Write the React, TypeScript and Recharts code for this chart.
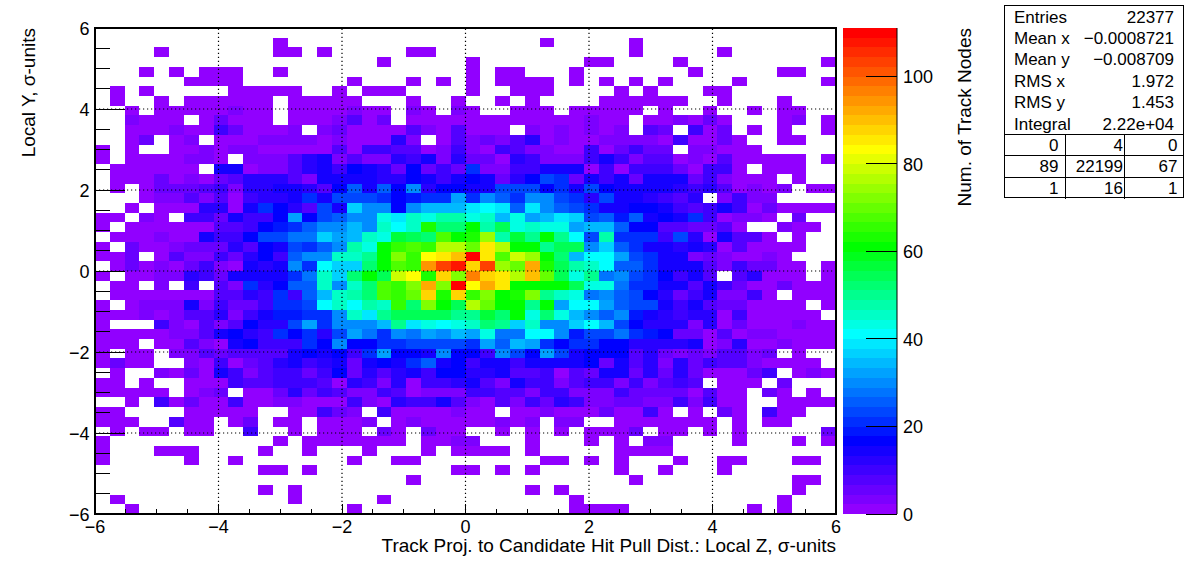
import React from 'react';
import {
    BarChart,
    Bar,
    ScatterChart,
    Scatter,
    XAxis,
    YAxis,
} from 'recharts';

// bin counts, one list per row, top row first
const row00 = [0,0,0,0,0,0,0,0,0,0, 0,0,0,0,0,0,0,0,0,0, 0,0,0,0,0,0,0,0,0,0, 0,0,0,0,0,0,0,0,0,0, 0,0,0,0,0,0,0,0,0,0];
const row01 = [0,0,0,0,0,0,0,0,0,0, 0,0,1,0,0,0,0,0,0,0, 0,0,0,0,0,0,0,0,0,0, 1,0,0,0,0,0,1,0,0,0, 0,0,0,0,0,0,0,0,0,0];
const row02 = [0,0,0,0,1,0,0,0,0,0, 0,0,1,1,0,1,0,0,0,0, 0,1,1,0,0,0,0,0,0,0, 0,0,0,0,0,0,1,0,0,0, 0,0,1,0,0,0,0,0,0,0];
const row03 = [0,0,0,0,0,0,0,0,0,0, 0,0,0,0,0,0,0,0,0,1, 0,0,0,0,0,1,0,0,0,0, 0,0,0,1,1,0,0,0,0,1, 0,0,0,0,0,0,0,0,0,1];
const row04 = [0,0,0,1,0,1,0,1,1,1, 0,0,1,0,0,0,0,0,0,0, 0,0,0,0,0,1,0,1,1,0, 0,0,1,0,0,0,0,0,0,0, 1,0,0,0,0,0,1,1,0,0];
const row05 = [0,0,0,0,0,0,1,1,1,1, 0,0,0,0,0,0,0,1,0,0, 0,1,0,1,0,1,0,1,1,1, 1,0,1,0,1,0,1,0,1,0, 0,0,0,1,0,0,0,0,0,1];
const row06 = [0,1,0,1,0,0,0,0,0,1, 1,1,1,1,0,0,1,0,1,1, 1,0,0,0,0,1,0,0,1,1, 1,0,0,0,0,1,0,1,0,0, 0,1,1,0,0,0,0,0,0,0];
const row07 = [0,1,0,0,1,0,1,1,1,1, 1,1,0,1,1,1,1,1,0,0, 0,1,0,0,1,0,0,1,0,1, 0,0,0,0,1,1,1,1,1,1, 0,0,1,0,0,0,1,0,0,0];
const row08 = [0,0,2,0,2,2,2,2,2,3, 2,2,0,1,1,1,2,3,2,2, 0,3,2,0,3,2,0,0,2,1, 1,0,1,1,2,2,2,0,1,0, 0,1,0,0,1,0,1,1,0,0];
const row09 = [0,0,4,2,2,2,0,2,5,2, 2,2,0,1,2,2,3,7,2,5, 0,2,2,2,2,2,2,2,2,2, 2,2,2,3,2,2,0,2,2,3, 2,5,2,0,0,0,1,3,0,1];
const row10 = [0,0,2,2,2,3,2,2,9,5, 2,2,2,3,0,3,5,2,2,2, 2,7,3,2,7,2,2,2,0,3, 2,3,2,3,2,3,0,7,5,0, 9,2,5,0,1,0,1,0,0,1];
const row11 = [0,0,2,5,0,2,3,0,2,2, 2,3,3,3,3,2,3,2,2,2, 12,3,0,2,7,3,5,3,7,12, 2,3,2,2,3,3,3,3,2,9, 2,2,5,2,0,0,1,1,0,0];
const row12 = [1,0,2,0,0,2,2,3,2,3, 3,2,2,2,2,2,7,2,11,11, 7,7,1,3,11,3,2,11,7,3, 3,2,2,11,2,5,9,5,5,0, 3,3,2,2,2,0,0,0,0,0];
const row13 = [1,0,2,2,2,2,3,3,2,0, 3,3,3,7,12,14,3,7,3,3, 12,9,14,3,12,5,5,2,12,9, 3,3,3,11,14,11,3,7,7,2, 3,2,7,2,2,2,1,1,0,1];
const row14 = [0,1,1,1,1,1,1,0,14,14, 2,3,3,7,12,14,9,17,15,12, 5,17,5,11,5,20,3,3,9,9, 14,15,14,2,9,2,11,11,11,5, 2,9,9,1,0,1,1,1,0,0];
const row15 = [0,1,1,1,5,2,4,1,5,7, 12,12,12,7,3,14,14,15,15,12, 12,17,14,11,14,17,15,5,12,17, 23,21,5,14,9,14,5,14,14,14, 5,9,3,2,2,2,0,1,0,0];
const row16 = [0,1,0,1,5,5,5,7,9,3, 12,12,15,15,12,7,17,26,15,26, 17,29,12,17,17,15,15,23,23,23, 17,21,14,23,17,15,14,14,15,12, 9,12,7,2,3,2,4,0,1,1];
const row17 = [0,0,0,2,3,3,7,3,7,2, 11,12,12,15,21,14,23,23,23,21, 17,19,21,21,32,21,30,26,21,30, 30,23,21,12,23,15,15,12,9,7, 12,0,3,9,3,3,0,0,0,0];
const row18 = [0,0,1,0,1,2,2,12,12,1, 15,20,17,12,7,23,15,37,31,31, 17,29,34,34,34,38,41,38,26,38, 31,26,23,21,14,14,17,17,15,11, 7,11,14,9,2,5,1,1,1,1];
const row19 = [1,1,0,3,1,0,11,11,5,15, 11,9,17,32,17,23,26,31,31,43, 38,45,43,48,48,44,46,34,43,32, 34,38,37,23,26,19,26,15,17,15, 21,11,2,4,4,2,0,5,0,0];
const row20 = [1,0,1,1,1,1,1,1,7,7, 11,17,19,21,26,29,31,35,31,46, 41,45,64,52,52,60,48,54,44,46, 43,43,32,35,35,26,17,17,7,7, 5,5,7,2,0,0,3,1,1,0];
const row21 = [0,1,1,1,3,2,2,14,11,9, 17,23,23,27,27,37,32,35,46,44, 57,55,52,67,60,63,75,48,57,50, 60,50,41,23,48,21,21,21,11,23, 12,2,14,7,7,1,0,1,0,0];
const row22 = [1,0,5,2,2,4,6,6,6,12, 7,17,14,23,20,26,31,48,43,60, 65,67,65,76,76,71,86,76,60,62, 50,54,54,31,37,26,21,15,15,12, 14,12,2,7,1,1,1,1,0,0];
const row23 = [1,1,5,0,1,7,3,3,9,5, 12,17,9,26,29,31,45,46,51,62, 73,65,83,86,89,110,86,67,79,75, 60,52,34,41,41,32,23,21,15,14, 3,6,3,2,2,4,1,0,0,0];
const row24 = [0,1,5,2,4,2,5,9,3,1, 15,12,15,31,21,40,36,37,52,60, 68,65,95,103,108,88,103,75,71,92, 63,54,48,46,41,26,26,20,15,15, 14,7,3,9,5,5,1,1,0,1];
const row25 = [1,0,2,2,3,3,12,11,5,14, 14,14,15,21,27,46,37,53,60,55, 78,83,64,87,73,97,88,86,76,89, 70,54,44,51,27,31,24,21,17,11, 15,7,0,7,12,1,1,1,0,1];
const row26 = [0,1,1,0,3,0,9,0,7,3, 22,12,17,26,26,45,31,45,53,68, 65,73,92,73,110,83,92,86,60,62, 60,60,55,43,44,27,21,21,15,14, 7,14,9,5,2,2,5,1,1,1];
const row27 = [0,1,1,1,1,1,1,1,7,7, 12,11,21,11,26,34,45,48,52,68, 65,70,87,63,87,65,73,60,64,73, 50,46,44,27,31,26,24,17,12,5, 9,14,4,4,9,2,0,1,1,1];
const row28 = [1,0,2,3,3,3,14,3,11,6, 6,11,21,21,24,41,45,41,48,45, 65,52,73,60,54,76,70,60,60,50, 60,32,40,41,32,26,24,24,15,9, 14,7,5,5,2,1,1,1,0,1];
const row29 = [1,1,1,3,2,3,7,7,12,3, 11,14,19,19,21,21,31,46,38,51, 54,54,54,55,51,50,57,52,62,43, 53,44,35,31,26,31,19,15,12,10, 12,12,2,9,1,1,1,1,1,0];
const row30 = [1,0,0,0,9,3,1,7,3,7, 17,12,12,23,32,20,29,31,31,35, 50,38,43,41,43,46,52,51,37,46, 29,29,37,40,34,23,17,12,12,12, 3,12,1,5,1,1,1,4,1,1];
const row31 = [1,1,1,1,1,3,3,7,15,17, 12,10,20,17,21,12,23,32,27,21, 31,27,32,29,35,32,43,27,27,41, 40,31,19,23,23,27,21,19,17,5, 5,2,7,1,3,3,1,1,1,1];
const row32 = [1,1,1,0,1,1,7,3,2,15, 17,11,11,11,20,17,29,17,17,21, 21,23,23,23,23,21,32,26,35,32, 21,17,21,20,17,17,12,12,12,12, 15,2,4,12,2,2,4,1,1,1];
const row33 = [1,0,1,1,0,3,3,7,5,7, 8,8,7,14,17,14,17,9,21,32, 17,17,15,29,16,17,11,31,23,17, 32,23,14,17,17,17,7,12,5,3, 5,3,7,7,3,5,0,1,0,0];
const row34 = [1,5,1,1,0,0,3,2,11,1, 5,7,12,15,11,12,15,5,15,17, 15,21,26,15,17,9,14,14,11,14, 14,14,14,17,5,15,7,12,3,12, 5,11,7,7,3,1,1,1,1,0];
const row35 = [0,1,0,0,3,2,5,2,14,11, 4,7,9,9,6,11,17,5,12,7, 12,15,9,17,17,12,12,15,7,7, 11,2,7,5,14,14,5,12,5,12, 5,1,2,2,5,9,0,1,3,2];
const row36 = [1,1,0,1,0,0,1,1,1,11, 7,7,9,9,11,7,2,12,11,3, 12,2,11,11,12,14,7,3,14,11, 11,3,7,11,9,3,9,3,7,11, 7,0,1,1,1,0,5,0,0,0];
const row37 = [1,1,1,1,1,0,1,4,6,0, 1,1,5,12,5,9,8,3,3,11, 7,2,4,4,4,10,10,7,8,4, 11,11,4,4,4,9,5,5,5,5, 2,7,1,1,0,5,2,0,1,0];
const row38 = [0,0,1,0,9,2,5,2,2,9, 2,2,4,4,2,2,2,9,4,2, 12,9,9,14,7,4,2,8,4,9, 5,12,9,3,3,5,5,3,3,9, 3,11,1,1,0,0,1,1,1,1];
const row39 = [1,1,0,0,0,0,1,1,1,1, 1,0,0,1,1,9,5,4,0,9, 1,1,1,1,4,1,1,0,1,1, 4,1,1,2,6,1,1,9,1,0, 1,0,5,1,0,9,1,1,0,0];
const row40 = [1,1,1,0,0,7,1,1,0,1, 5,0,1,1,0,1,1,1,3,0, 1,3,1,1,1,1,1,4,1,4, 0,4,4,0,0,1,1,1,1,1, 1,1,0,1,0,1,1,0,0,0];
const row41 = [0,1,0,1,1,0,1,1,0,0, 9,0,0,1,0,1,1,1,0,5, 1,0,5,1,1,0,0,1,0,1, 0,1,0,1,1,1,5,0,1,1, 0,1,0,1,0,0,0,0,0,5];
const row42 = [1,0,0,0,0,0,0,0,0,0, 0,0,1,0,1,1,1,1,1,1, 1,0,1,1,4,4,0,0,0,1, 0,0,0,1,0,1,0,3,3,0, 0,0,0,1,0,0,0,1,0,1];
const row43 = [1,0,0,0,1,1,1,0,0,0, 0,1,0,0,1,0,0,0,1,0, 0,0,1,0,1,1,1,1,0,1, 0,0,0,0,0,1,1,1,1,0, 0,0,0,0,0,0,0,0,0,0];
const row44 = [1,0,0,0,0,0,1,0,0,1, 0,0,0,0,0,0,0,1,0,0, 1,1,0,0,0,0,0,0,0,0, 1,1,0,1,0,1,0,0,0,1, 0,0,1,1,0,0,0,1,1,0];
const row45 = [0,0,0,0,0,0,0,0,0,0, 0,1,1,0,1,0,0,0,0,0, 0,0,0,0,1,1,0,1,0,1, 0,0,0,0,0,1,0,0,1,0, 0,0,1,0,0,0,0,0,0,0];
const row46 = [0,0,0,0,0,0,0,0,0,0, 0,0,0,0,0,0,0,0,0,0, 0,1,0,0,0,0,0,0,0,0, 0,0,0,0,0,0,1,0,0,0, 0,0,0,0,0,0,0,1,1,0];
const row47 = [0,0,0,0,0,0,0,0,0,0, 0,1,0,1,0,0,0,0,0,0, 0,0,0,0,0,0,0,0,0,1, 0,1,0,0,0,0,0,0,0,0, 0,0,0,0,0,0,0,1,0,0];
const row48 = [0,1,0,0,0,0,0,0,0,0, 0,0,0,1,0,0,0,0,0,1, 0,0,0,0,0,0,0,0,0,0, 0,0,1,0,0,0,0,0,0,0, 0,0,0,0,0,0,1,0,0,0];
const row49 = [0,0,1,0,0,0,0,0,0,0, 0,0,0,0,0,0,0,1,0,0, 0,0,0,0,0,0,0,0,0,0, 0,0,1,1,1,1,0,0,0,0, 0,0,0,0,1,0,1,0,0,0];

const countRows = [
    row00, row01, row02, row03, row04, row05, row06, row07, row08, row09,
    row10, row11, row12, row13, row14, row15, row16, row17, row18, row19,
    row20, row21, row22, row23, row24, row25, row26, row27, row28, row29,
    row30, row31, row32, row33, row34, row35, row36, row37, row38, row39,
    row40, row41, row42, row43, row44, row45, row46, row47, row48, row49,
];

const axisTicks = [-6, -5.5, -5, -4.5, -4, -3.5, -3, -2.5, -2, -1.5, -1, -0.5, 0, 0.5, 1, 1.5, 2, 2.5, 3, 3.5, 4, 4.5, 5, 5.5, 6];
const gridLines = [-4, -2, 0, 2, 4];
const colorTicks = [0, 20, 40, 60, 80, 100];

const statsLines = [
    ['Entries', '22377'],
    ['Mean x', '\u22120.0008721'],
    ['Mean y', '\u22120.008709'],
    ['RMS x', '1.972'],
    ['RMS y', '1.453'],
    ['Integral', '2.22e+04'],
];
const overflowCells = [
    ['0', '4', '0'],
    ['89', '22199', '67'],
    ['1', '16', '1'],
];

const FONT = '"Liberation Sans", Arial, sans-serif';
const RANGE = 6;
const BINS = 50;
const BIN_SIZE = (2 * RANGE) / BINS;
const MAX_COUNT = 111;
const LEVEL_COUNT = 50;
const LEVEL_STEP = MAX_COUNT / LEVEL_COUNT;

const PLOT = { left: 95, right: 836, top: 28, bottom: 514 };
const CELL_W = (PLOT.right - PLOT.left) / BINS;
const CELL_H = (PLOT.bottom - PLOT.top) / BINS;

// rainbow palette stops: [level, r, g, b]
const PALETTE_STOPS = [
    [0, 145, 0, 255],
    [7, 0, 0, 255],
    [18, 0, 255, 255],
    [27, 0, 255, 0],
    [37, 255, 255, 0],
    [49, 255, 0, 0],
];

const paletteColor = (level: number) => {
    let i = 0;
    while (i < PALETTE_STOPS.length - 2 && level > PALETTE_STOPS[i + 1][0]) i += 1;
    const a = PALETTE_STOPS[i];
    const b = PALETTE_STOPS[i + 1];
    const t = (level - a[0]) / (b[0] - a[0]);
    const mix = (k: number) => Math.round(a[k] + (b[k] - a[k]) * t);
    return `rgb(${mix(1)},${mix(2)},${mix(3)})`;
};

const levels = Array.from({ length: LEVEL_COUNT }, (_, i) => i);

const cells = countRows.flatMap((row, r) =>
    row.map((count, c) => ({
        x: -RANGE + (c + 0.5) * BIN_SIZE,
        y: RANGE - (r + 0.5) * BIN_SIZE,
        count,
    })),
).filter((cell) => cell.count > 0);

const innerTicks = axisTicks.slice(1, -1);
const xTickPoints = innerTicks.map((value) => ({ x: value, y: -RANGE, major: value % 2 === 0 }));
const yTickPoints = innerTicks.map((value) => ({ x: -RANGE, y: value, major: value % 2 === 0 }));
const xGridPoints = gridLines.map((value) => ({ x: value, y: -RANGE }));
const yGridPoints = gridLines.map((value) => ({ x: -RANGE, y: value }));
const framePoint = [{ x: -RANGE, y: RANGE }];
const colorTickPoints = colorTicks.map((value) => ({ x: 1, y: value }));

const colorBarRow = levels.reduce(
    (acc: Record<string, number | string>, level) => {
        acc[`level${level}`] = LEVEL_STEP;
        return acc;
    },
    { name: 'z' },
);

const minusLabel = (value: number) =>
    value < 0 ? `\u2212${Math.abs(value)}` : `${value}`;

const HistCell = (props: any) => {
    const { cx, cy, payload } = props;
    const level = Math.min(LEVEL_COUNT - 1, Math.floor(payload.count / LEVEL_STEP));
    return (
        <rect
            x={cx - CELL_W / 2}
            y={cy - CELL_H / 2}
            width={CELL_W}
            height={CELL_H}
            fill={paletteColor(level)}
            shapeRendering="crispEdges"
        />
    );
};

// grid, tick marks and frame all lie over the cells, so they are scatter series drawn after them
const XGridLine = ({ cx, cy }: any) => (
    <line x1={cx} x2={cx} y1={cy} y2={PLOT.top} stroke="#000" strokeWidth={1.2} strokeDasharray="1.2 2.8" />
);

const YGridLine = ({ cx, cy }: any) => (
    <line x1={cx} x2={PLOT.right} y1={cy} y2={cy} stroke="#000" strokeWidth={1.2} strokeDasharray="1.2 2.8" />
);

const XTickMark = ({ cx, cy, payload }: any) => (
    <line
        x1={cx}
        x2={cx}
        y1={cy}
        y2={cy - (payload.major ? 10 : 5)}
        stroke="#000"
        shapeRendering="crispEdges"
    />
);

const YTickMark = ({ cx, cy, payload }: any) => (
    <line
        x1={cx}
        x2={cx + (payload.major ? 30 : 15)}
        y1={cy}
        y2={cy}
        stroke="#000"
        shapeRendering="crispEdges"
    />
);

const FrameBox = ({ cx, cy }: any) => (
    <rect
        x={cx}
        y={cy}
        width={PLOT.right - PLOT.left}
        height={PLOT.bottom - PLOT.top}
        fill="none"
        stroke="#000"
        strokeWidth={2}
    />
);

const ColorTickMark = ({ cx, cy }: any) => (
    <line x1={cx - 31} x2={cx} y1={cy} y2={cy} stroke="#000" shapeRendering="crispEdges" />
);

const XTick = ({ x, payload }: any) =>
    payload.value % 2 === 0 ? (
        <text x={x} y={533} textAnchor="middle" fontSize={18} fontFamily={FONT} fill="#000">
            {minusLabel(payload.value)}
        </text>
    ) : (
        <g />
    );

const YTick = ({ y, payload }: any) =>
    payload.value % 2 === 0 ? (
        <text x={89.5} y={y + 7} textAnchor="end" fontSize={18} fontFamily={FONT} fill="#000">
            {minusLabel(payload.value)}
        </text>
    ) : (
        <g />
    );

const ColorTick = ({ x, y, payload }: any) => (
    <text x={x - 2} y={y + 7} fontSize={18} fontFamily={FONT} fill="#000">
        {payload.value}
    </text>
);

const App = () => {
    return (
        <div
            style={{
                position: 'absolute',
                left: 0,
                top: 0,
                width: 1196,
                height: 572,
                background: '#fff',
                fontFamily: FONT,
                overflow: 'hidden',
            }}
        >
            <div style={{ position: 'absolute', left: 0, top: 0 }}>
                <ScatterChart
                    width={1196}
                    height={572}
                    margin={{ top: PLOT.top, right: 1196 - PLOT.right, bottom: 28, left: 55 }}
                >
                    <XAxis
                        type="number"
                        dataKey="x"
                        domain={[-RANGE, RANGE]}
                        ticks={axisTicks}
                        interval={0}
                        height={30}
                        axisLine={false}
                        tickLine={false}
                        tick={<XTick />}
                    />
                    <YAxis
                        type="number"
                        dataKey="y"
                        domain={[-RANGE, RANGE]}
                        ticks={axisTicks}
                        interval={0}
                        width={40}
                        axisLine={false}
                        tickLine={false}
                        tick={<YTick />}
                    />
                    <Scatter data={cells} shape={<HistCell />} isAnimationActive={false} />
                    <Scatter data={xGridPoints} shape={<XGridLine />} isAnimationActive={false} />
                    <Scatter data={yGridPoints} shape={<YGridLine />} isAnimationActive={false} />
                    <Scatter data={xTickPoints} shape={<XTickMark />} isAnimationActive={false} />
                    <Scatter data={yTickPoints} shape={<YTickMark />} isAnimationActive={false} />
                    <Scatter data={framePoint} shape={<FrameBox />} isAnimationActive={false} />
                    <text x={836} y={552} textAnchor="end" fontSize={19} fontFamily={FONT} fill="#000">
                        Track Proj. to Candidate Hit Pull Dist.: Local Z, σ-units
                    </text>
                    <text
                        transform="translate(35 28) rotate(-90)"
                        textAnchor="end"
                        fontSize={19}
                        fontFamily={FONT}
                        fill="#000"
                    >
                        Local Y, σ-units
                    </text>
                </ScatterChart>
            </div>

            <div style={{ position: 'absolute', left: 843, top: 0 }}>
                <BarChart
                    width={160}
                    height={572}
                    data={[colorBarRow]}
                    barCategoryGap={0}
                    margin={{ top: PLOT.top, right: 61, bottom: 572 - PLOT.bottom, left: 0 }}
                >
                    <XAxis dataKey="name" hide />
                    <YAxis
                        orientation="right"
                        type="number"
                        domain={[0, MAX_COUNT]}
                        ticks={colorTicks}
                        interval={0}
                        width={45}
                        axisLine={false}
                        tick={false}
                        tickLine={false}
                    />
                    {levels.map((level) => (
                        <Bar
                            key={level}
                            dataKey={`level${level}`}
                            stackId="bar"
                            fill={paletteColor(level)}
                            isAnimationActive={false}
                            shapeRendering="crispEdges"
                        />
                    ))}
                </BarChart>
            </div>

            <div style={{ position: 'absolute', left: 843, top: 0 }}>
                <ScatterChart
                    width={160}
                    height={572}
                    margin={{ top: PLOT.top, right: 61, bottom: 572 - PLOT.bottom, left: 0 }}
                >
                    <XAxis type="number" dataKey="x" domain={[0, 1]} hide />
                    <YAxis
                        orientation="right"
                        type="number"
                        dataKey="y"
                        domain={[0, MAX_COUNT]}
                        ticks={colorTicks}
                        interval={0}
                        width={45}
                        axisLine={{ stroke: '#000' }}
                        tickLine={false}
                        tick={<ColorTick />}
                    />
                    <Scatter data={colorTickPoints} shape={<ColorTickMark />} isAnimationActive={false} />
                </ScatterChart>
            </div>

            <svg
                width={60}
                height={572}
                style={{ position: 'absolute', left: 940, top: 0 }}
            >
                <text
                    transform="translate(31 28) rotate(-90)"
                    textAnchor="end"
                    fontSize={19}
                    fontFamily={FONT}
                    fill="#000"
                >
                    Num. of Track Nodes
                </text>
            </svg>

            <div
                style={{
                    position: 'absolute',
                    left: 1004,
                    top: 5,
                    width: 180,
                    height: 193,
                    border: '1px solid #000',
                    boxSizing: 'border-box',
                    background: '#fff',
                    fontSize: 17,
                    color: '#000',
                }}
            >
                {statsLines.map(([name, value], i) => (
                    <div
                        key={name}
                        style={{
                            position: 'absolute',
                            left: 9,
                            right: 9,
                            top: 1.5 + i * 21.4,
                            height: 20,
                            lineHeight: '20px',
                            display: 'flex',
                            justifyContent: 'space-between',
                            whiteSpace: 'nowrap',
                        }}
                    >
                        <span>{name}</span>
                        <span>{value}</span>
                    </div>
                ))}
                {overflowCells.map((row, r) => (
                    <div
                        key={r}
                        style={{
                            position: 'absolute',
                            left: 0,
                            right: 0,
                            top: 128 + r * 21.4,
                            height: 21.4,
                            borderTop: '1px solid #000',
                            boxSizing: 'border-box',
                        }}
                    >
                        {row.map((text, c) => (
                            <div
                                key={c}
                                style={{
                                    position: 'absolute',
                                    left: c * 59.5,
                                    width: 59.5,
                                    top: 0,
                                    height: 21,
                                    lineHeight: '22px',
                                    textAlign: 'right',
                                    paddingRight: c === 1 ? 1 : 6,
                                    boxSizing: 'border-box',
                                    borderLeft: c > 0 ? '1px solid #000' : 'none',
                                }}
                            >
                                {text}
                            </div>
                        ))}
                    </div>
                ))}
            </div>
        </div>
    );
};

export default App;
